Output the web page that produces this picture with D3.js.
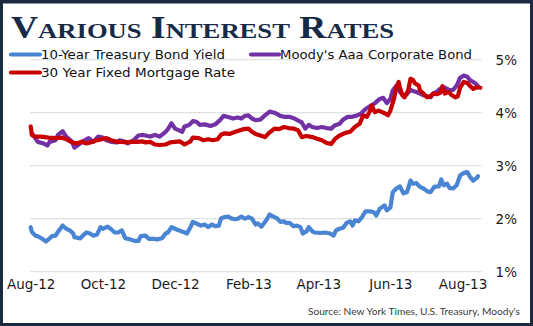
<!DOCTYPE html>
<html>
<head>
<meta charset="utf-8">
<script src="https://cdn.jsdelivr.net/npm/d3@7"></script>
<style>
  html, body { margin: 0; padding: 0; background: #fff; }
  svg { display: block; }
</style>
</head>
<body>
<svg id="chart" width="533" height="326"></svg>
<script>
// ---- data -------------------------------------------------------------
const seriesNames = [
  "10-Year Treasury Bond Yield",
  "Moody's Aaa Corporate Bond",
  "30 Year Fixed Mortgage Rate"
];

const treasury = [
  ["2012-08-01",1.84],["2012-08-02",1.75],["2012-08-05",1.68],["2012-08-07",1.67],["2012-08-10",1.63],
  ["2012-08-14",1.57],["2012-08-16",1.61],["2012-08-19",1.67],["2012-08-22",1.68],["2012-08-24",1.75],
  ["2012-08-28",1.87],["2012-08-31",1.81],["2012-09-03",1.78],["2012-09-06",1.72],["2012-09-07",1.65],
  ["2012-09-12",1.63],["2012-09-14",1.68],["2012-09-17",1.74],["2012-09-20",1.72],["2012-09-23",1.68],
  ["2012-09-26",1.70],["2012-09-29",1.84],["2012-10-01",1.81],["2012-10-05",1.85],["2012-10-08",1.80],
  ["2012-10-11",1.74],["2012-10-14",1.74],["2012-10-17",1.78],["2012-10-20",1.63],["2012-10-24",1.61],
  ["2012-10-28",1.58],["2012-10-31",1.58],["2012-11-02",1.67],["2012-11-06",1.68],["2012-11-09",1.62],
  ["2012-11-13",1.62],["2012-11-16",1.61],["2012-11-20",1.63],["2012-11-23",1.72],["2012-11-25",1.74],
  ["2012-11-28",1.84],["2012-12-01",1.81],["2012-12-04",1.78],["2012-12-08",1.75],["2012-12-11",1.72],
  ["2012-12-14",1.84],["2012-12-16",1.94],["2012-12-19",1.91],["2012-12-23",1.87],["2012-12-26",1.89],
  ["2012-12-29",1.84],["2013-01-01",1.89],["2013-01-04",1.86],["2013-01-07",1.87],["2013-01-09",2.01],
  ["2013-01-12",2.03],["2013-01-15",2.04],["2013-01-18",2.00],["2013-01-21",1.99],["2013-01-23",2.00],
  ["2013-01-26",2.04],["2013-01-29",2.00],["2013-02-01",2.03],["2013-02-04",2.00],["2013-02-07",1.89],
  ["2013-02-09",1.91],["2013-02-12",1.85],["2013-02-16",1.97],["2013-02-19",2.08],["2013-02-22",2.04],
  ["2013-02-25",2.01],["2013-02-28",1.94],["2013-03-03",1.95],["2013-03-05",1.92],["2013-03-08",1.92],
  ["2013-03-11",1.86],["2013-03-14",1.87],["2013-03-17",1.84],["2013-03-19",1.72],["2013-03-22",1.76],
  ["2013-03-24",1.84],["2013-03-27",1.76],["2013-03-29",1.74],["2013-04-03",1.73],["2013-04-07",1.74],
  ["2013-04-11",1.72],["2013-04-14",1.68],["2013-04-16",1.78],["2013-04-19",1.81],["2013-04-22",1.83],
  ["2013-04-25",1.92],["2013-04-28",1.95],["2013-04-30",1.87],["2013-05-02",1.97],["2013-05-05",1.95],
  ["2013-05-08",2.03],["2013-05-11",2.14],["2013-05-15",2.14],["2013-05-18",2.12],["2013-05-20",2.06],
  ["2013-05-23",2.19],["2013-05-27",2.25],["2013-05-29",2.16],["2013-06-01",2.21],["2013-06-03",2.50],
  ["2013-06-06",2.57],["2013-06-09",2.61],["2013-06-12",2.48],["2013-06-15",2.50],["2013-06-18",2.72],
  ["2013-06-20",2.66],["2013-06-23",2.67],["2013-06-26",2.60],["2013-06-29",2.57],["2013-07-02",2.52],
  ["2013-07-05",2.50],["2013-07-08",2.60],["2013-07-12",2.61],["2013-07-14",2.74],["2013-07-16",2.63],
  ["2013-07-19",2.66],["2013-07-21",2.58],["2013-07-24",2.57],["2013-07-27",2.63],["2013-07-30",2.82],
  ["2013-08-02",2.86],["2013-08-05",2.88],["2013-08-07",2.80],["2013-08-10",2.72],["2013-08-13",2.77],
  ["2013-08-14",2.80]
];

const corporate = [
  ["2012-08-02",3.61],["2012-08-07",3.45],["2012-08-12",3.42],["2012-08-15",3.38],["2012-08-17",3.45],
  ["2012-08-22",3.48],["2012-08-24",3.58],["2012-08-28",3.65],["2012-08-31",3.55],["2012-09-05",3.45],
  ["2012-09-07",3.34],["2012-09-10",3.39],["2012-09-14",3.46],["2012-09-19",3.52],["2012-09-23",3.45],
  ["2012-09-27",3.55],["2012-10-01",3.53],["2012-10-04",3.48],["2012-10-08",3.45],["2012-10-13",3.44],
  ["2012-10-15",3.48],["2012-10-20",3.45],["2012-10-22",3.42],["2012-10-27",3.48],["2012-10-31",3.57],
  ["2012-11-04",3.58],["2012-11-10",3.55],["2012-11-14",3.58],["2012-11-18",3.55],["2012-11-23",3.64],
  ["2012-11-25",3.69],["2012-11-28",3.80],["2012-12-01",3.70],["2012-12-04",3.67],["2012-12-07",3.64],
  ["2012-12-09",3.74],["2012-12-13",3.77],["2012-12-16",3.84],["2012-12-19",3.83],["2012-12-22",3.77],
  ["2012-12-26",3.78],["2012-12-31",3.75],["2013-01-04",3.78],["2013-01-08",3.86],["2013-01-11",3.94],
  ["2013-01-15",3.92],["2013-01-19",3.89],["2013-01-23",3.91],["2013-01-26",3.89],["2013-01-29",3.94],
  ["2013-02-01",3.95],["2013-02-04",3.89],["2013-02-07",3.86],["2013-02-11",3.87],["2013-02-15",3.95],
  ["2013-02-19",4.02],["2013-02-23",4.00],["2013-02-28",3.94],["2013-03-04",3.92],["2013-03-08",3.92],
  ["2013-03-12",3.89],["2013-03-15",3.85],["2013-03-18",3.82],["2013-03-21",3.70],["2013-03-24",3.77],
  ["2013-03-27",3.73],["2013-03-31",3.71],["2013-04-04",3.73],["2013-04-08",3.71],["2013-04-12",3.70],
  ["2013-04-15",3.76],["2013-04-19",3.79],["2013-04-22",3.87],["2013-04-26",3.92],["2013-04-29",3.92],
  ["2013-05-04",3.95],["2013-05-07",3.98],["2013-05-11",4.07],["2013-05-14",4.11],["2013-05-19",4.18],
  ["2013-05-23",4.26],["2013-05-26",4.28],["2013-05-29",4.18],["2013-06-01",4.26],["2013-06-03",4.42],
  ["2013-06-06",4.51],["2013-06-09",4.39],["2013-06-12",4.33],["2013-06-15",4.35],["2013-06-18",4.43],
  ["2013-06-20",4.41],["2013-06-23",4.39],["2013-06-26",4.36],["2013-06-29",4.33],["2013-07-02",4.31],
  ["2013-07-05",4.29],["2013-07-07",4.36],["2013-07-10",4.39],["2013-07-13",4.45],["2013-07-16",4.48],
  ["2013-07-19",4.45],["2013-07-21",4.42],["2013-07-24",4.43],["2013-07-27",4.51],["2013-07-30",4.66],
  ["2013-08-02",4.70],["2013-08-05",4.68],["2013-08-07",4.62],["2013-08-10",4.58],["2013-08-12",4.55],
  ["2013-08-14",4.50]
];

const mortgage = [
  ["2012-08-01",3.74],["2012-08-02",3.58],["2012-08-05",3.55],["2012-08-10",3.55],["2012-08-16",3.53],
  ["2012-08-22",3.52],["2012-08-27",3.53],["2012-08-31",3.50],["2012-09-05",3.44],["2012-09-09",3.42],
  ["2012-09-13",3.45],["2012-09-17",3.42],["2012-09-22",3.45],["2012-09-26",3.48],["2012-09-30",3.50],
  ["2012-10-04",3.52],["2012-10-08",3.48],["2012-10-13",3.45],["2012-10-17",3.45],["2012-10-21",3.44],
  ["2012-10-25",3.45],["2012-10-30",3.45],["2012-11-03",3.46],["2012-11-06",3.44],["2012-11-10",3.45],
  ["2012-11-14",3.40],["2012-11-18",3.39],["2012-11-23",3.40],["2012-11-27",3.44],["2012-12-01",3.45],
  ["2012-12-05",3.46],["2012-12-09",3.40],["2012-12-14",3.46],["2012-12-16",3.53],["2012-12-21",3.52],
  ["2012-12-25",3.48],["2012-12-29",3.50],["2013-01-02",3.48],["2013-01-06",3.50],["2013-01-09",3.59],
  ["2013-01-12",3.61],["2013-01-16",3.60],["2013-01-21",3.64],["2013-01-25",3.67],["2013-01-28",3.69],
  ["2013-02-01",3.70],["2013-02-04",3.64],["2013-02-07",3.60],["2013-02-11",3.57],["2013-02-15",3.54],
  ["2013-02-19",3.63],["2013-02-23",3.70],["2013-02-27",3.69],["2013-03-03",3.73],["2013-03-07",3.71],
  ["2013-03-11",3.70],["2013-03-15",3.67],["2013-03-18",3.54],["2013-03-22",3.56],["2013-03-27",3.54],
  ["2013-03-31",3.51],["2013-04-04",3.48],["2013-04-08",3.43],["2013-04-12",3.41],["2013-04-15",3.50],
  ["2013-04-19",3.57],["2013-04-24",3.62],["2013-04-28",3.64],["2013-05-02",3.73],["2013-05-06",3.79],
  ["2013-05-09",3.95],["2013-05-12",3.92],["2013-05-15",4.04],["2013-05-16",4.14],["2013-05-19",4.01],
  ["2013-05-22",4.04],["2013-05-25",4.01],["2013-05-28",3.98],["2013-05-30",3.95],["2013-06-01",4.04],
  ["2013-06-04",4.26],["2013-06-06",4.48],["2013-06-08",4.58],["2013-06-09",4.48],["2013-06-11",4.33],
  ["2013-06-13",4.29],["2013-06-16",4.42],["2013-06-18",4.64],["2013-06-20",4.62],["2013-06-22",4.55],
  ["2013-06-25",4.51],["2013-06-26",4.42],["2013-06-29",4.36],["2013-07-02",4.29],["2013-07-05",4.31],
  ["2013-07-07",4.36],["2013-07-10",4.35],["2013-07-13",4.37],["2013-07-15",4.50],["2013-07-17",4.36],
  ["2013-07-20",4.39],["2013-07-23",4.33],["2013-07-26",4.29],["2013-07-28",4.31],["2013-07-30",4.48],
  ["2013-08-02",4.58],["2013-08-05",4.56],["2013-08-07",4.51],["2013-08-10",4.45],["2013-08-13",4.48],
  ["2013-08-16",4.47]
];

const xTickDates = ["2012-08-01","2012-10-01","2012-12-01","2013-02-01","2013-04-01","2013-06-01","2013-08-01"];
const yTickValues = [1, 2, 3, 4, 5];
const dateExtent = ["2012-08-01", "2013-08-17"];

// ---- layout -----------------------------------------------------------
const W = 533, H = 326;
const plot = { left: 30.7, right: 481.5, top: 59.7, bottom: 271.7 };
const colors = ["#4a85d3", "#7232a6", "#c80000"];
const navy = "#1b2a3e";
const bodyFont = "'DejaVu Sans', sans-serif";

const parse = d3.utcParse("%Y-%m-%d");
const fmt = d3.utcFormat("%b-%y");

const x = d3.scaleUtc()
  .domain(dateExtent.map(parse))
  .range([plot.left, plot.right]);

const y = d3.scaleLinear()
  .domain([1, 5])
  .range([plot.bottom, plot.top]);

const svg = d3.select("#chart");

// frame
svg.append("rect").attr("x", 0).attr("y", 0).attr("width", W).attr("height", H).attr("fill", navy);
svg.append("rect").attr("x", 3).attr("y", 3.5).attr("width", W - 6).attr("height", H - 6.5).attr("fill", "#ffffff");

// horizontal gridlines
svg.append("g")
  .selectAll("line")
  .data(yTickValues)
  .join("line")
  .attr("x1", plot.left).attr("x2", plot.right)
  .attr("y1", d => y(d)).attr("y2", d => y(d))
  .attr("stroke", "#b4b4b4")
  .attr("stroke-width", 1)
  .attr("stroke-dasharray", "1,1");

// right-hand value labels
const yAxis = svg.append("g")
  .attr("transform", `translate(517,0)`)
  .call(d3.axisRight(y).tickValues(yTickValues).tickFormat(d => d + "%").tickSize(0).tickPadding(0));
yAxis.select(".domain").remove();
yAxis.selectAll("text")
  .attr("x", 0)
  .attr("dy", "0.34em")
  .attr("text-anchor", "end")
  .attr("fill", "#1a1a1a")
  .style("font-family", bodyFont)
  .style("font-size", "13.5px");

// date labels
const xAxis = svg.append("g")
  .attr("transform", `translate(0,289)`)
  .call(d3.axisBottom(x).tickValues(xTickDates.map(parse)).tickFormat(fmt).tickSize(0).tickPadding(0));
xAxis.select(".domain").remove();
xAxis.selectAll("text")
  .attr("y", 0)
  .attr("dy", 0)
  .attr("fill", "#1a1a1a")
  .style("font-family", bodyFont)
  .style("font-size", "13.5px");

// series lines
const line = d3.line()
  .x(d => x(parse(d[0])))
  .y(d => y(d[1]));

[treasury, corporate, mortgage].forEach((series, i) => {
  svg.append("path")
    .datum(series)
    .attr("d", line)
    .attr("fill", "none")
    .attr("stroke", colors[i])
    .attr("stroke-width", 4.2)
    .attr("stroke-linejoin", "round")
    .attr("stroke-linecap", "round");
});

// legend
const legendItems = [
  { x: 11, y: 54.5, x2: 40, textX: 41, baseline: 58.8, len: 184 },
  { x: 251, y: 54.5, x2: 279, textX: 280, baseline: 58.8, len: 192 },
  { x: 11, y: 72.5, x2: 40, textX: 41, baseline: 77, len: 194 }
];
const legend = svg.append("g");
legendItems.forEach((it, i) => {
  legend.append("line")
    .attr("x1", it.x).attr("x2", it.x2)
    .attr("y1", it.y).attr("y2", it.y)
    .attr("stroke", colors[i])
    .attr("stroke-width", 4.2)
    .attr("stroke-linecap", "round");
  legend.append("text")
    .attr("x", it.textX).attr("y", it.baseline)
    .attr("textLength", it.len)
    .attr("lengthAdjust", "spacingAndGlyphs")
    .attr("fill", "#111")
    .style("font-family", bodyFont)
    .style("font-size", "13px")
    .text(seriesNames[i]);
});

// title in small capitals
const titleWords = ["Various", "Interest", "Rates"];
const title = svg.append("text")
  .attr("x", 11).attr("y", 38)
  .attr("textLength", 383)
  .attr("lengthAdjust", "spacingAndGlyphs")
  .attr("fill", "#172a48")
  .style("font-family", "'Liberation Serif', 'Times New Roman', serif")
  .style("font-weight", "bold");
titleWords.forEach((w, i) => {
  title.append("tspan").style("font-size", "31px").text((i ? " " : "") + w[0].toUpperCase());
  title.append("tspan").style("font-size", "22px").text(w.slice(1).toUpperCase());
});

// source note
svg.append("text")
  .attr("x", 308).attr("y", 314.5)
  .attr("textLength", 212)
  .attr("lengthAdjust", "spacingAndGlyphs")
  .attr("fill", "#3a3a3a")
  .style("font-family", "Lato, sans-serif")
  .style("font-size", "10px")
  .text("Source:  New York Times, U.S. Treasury, Moody's");
</script>
</body>
</html>
